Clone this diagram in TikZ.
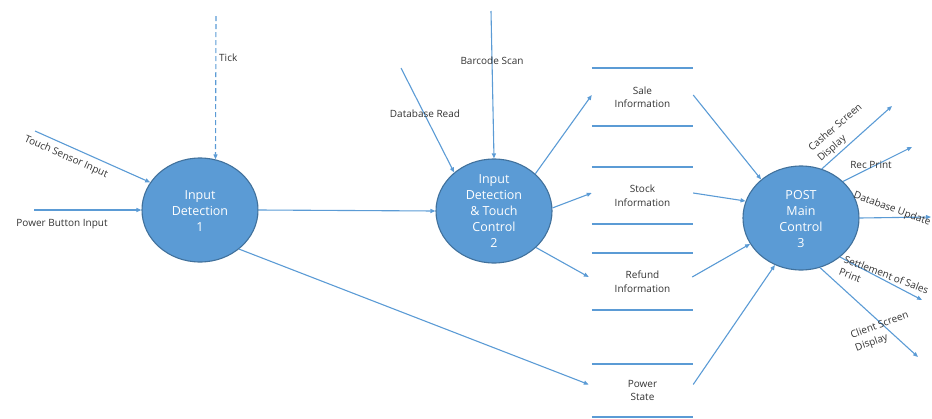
\documentclass[tikz,border=0pt]{standalone}
\usepackage{fontspec}
\setmainfont{Open Sans}
\usetikzlibrary{shapes.geometric,arrows.meta}
\definecolor{flowblue}{HTML}{5B9BD5}
\definecolor{procedge}{HTML}{41719C}
\definecolor{labelgray}{HTML}{333333}
\begin{document}
\begin{tikzpicture}[x=1pt,y=-1pt,
  process/.style={ellipse, draw=procedge, fill=flowblue, line width=1.1pt,
    minimum width=116pt, minimum height=104pt, inner sep=0pt},
  proclabel/.style={text=white, align=center, inner sep=0pt,
    font=\fontsize{12.5}{16}\selectfont},
  store/.style={minimum width=101pt, inner sep=0pt, align=center, text=labelgray,
    font=\fontsize{10}{13.5}\selectfont},
  storeline/.style={draw=flowblue, line width=1.8pt},
  flow/.style={draw=flowblue, line width=1.1pt, -{Triangle[length=5pt,width=4pt]}},
  tag/.style={text=labelgray, font=\fontsize{10}{13.5}\selectfont, inner sep=0pt, align=left},
]
\useasboundingbox (0,0) rectangle (932,418);

% processes
\node[process] (p1) at (200,210) {};
\node[proclabel] (p1t) at (200,211) {Input\\Detection\\1};
\node[process] (p2) at (494,211) {};
\node[proclabel] (p2t) at (494,211) {Input\\Detection\\\& Touch\\Control\\2};
\node[process] (p3) at (801,218) {};
\node[proclabel] (p3t) at (801,219) {POST\\Main\\Control\\3};

% data stores
\node[store, minimum height=58pt] (sale) at (642.5,97) {Sale\\Information};
\node[store, minimum height=57pt] (stock) at (642.5,195.5) {Stock\\Information};
\node[store, minimum height=57pt] (refund) at (642.5,281.5) {Refund\\Information};
\node[store, minimum height=53pt] (pst) at (642.5,390.5) {Power\\State};
\foreach \s in {sale,stock,refund,pst}{
  \draw[storeline] (\s.north west) -- (\s.north east);
  \draw[storeline] (\s.south west) -- (\s.south east);
}

% external inputs
\coordinate (tickin) at (216,16);
\coordinate (touchin) at (35,131);
\coordinate (pwrin) at (34,210);
\coordinate (dbin) at (401,68);
\coordinate (barin) at (491,11);

\draw[flow, dash pattern=on 5pt off 3pt] (tickin) -- (p1.73);
\draw[flow] (touchin) -- (p1.151);
\draw[flow] (pwrin) -- (p1.180);
\draw[flow] (dbin) -- (p2.136);
\draw[flow] (barin) -- (p2.90);

\node[tag, anchor=west] (ticklbl) at (219,58) {Tick};
\node[tag, rotate=-24] (touchlbl) at (66,157) {Touch Sensor Input};
\node[tag] (pwrlbl) at (62,224) {Power Button Input};
\node[tag] (dblbl) at (425,114) {Database Read};
\node[tag] (barlbl) at (492,61) {Barcode Scan};

% internal flows
\draw[flow] (p1.0) -- (p2.180);
\draw[flow] (p1.-45) -- ([xshift=-3pt,yshift=6pt]pst.west);
\draw[flow] (p2.42) -- ([yshift=2pt]sale.west);
\draw[flow] (p2.3) -- ([yshift=2.5pt]stock.west);
\draw[flow] (p2.-41) -- ([xshift=-3pt,yshift=4.5pt]refund.west);
\draw[flow] ([yshift=2pt]sale.east) -- (p3.136);
\draw[flow] ([yshift=2.5pt]stock.east) -- (p3.163);
\draw[flow] ([xshift=-1pt,yshift=4.5pt]refund.east) -- (p3.207);
\draw[flow] ([yshift=6pt]pst.east) -- (p3.241);

% outputs
\coordinate (cashout) at (892,106);
\coordinate (recout) at (912,147);
\coordinate (dbout) at (931,217);
\coordinate (setout) at (922,300);
\coordinate (cliout) at (918,357);

\draw[flow] (p3.67) -- (cashout);
\draw[flow] (p3.41) -- (recout);
\draw[flow] (p3.0) -- (dbout);
\draw[flow] (p3.-45) -- (setout);
\draw[flow] (p3.-69) -- (cliout);

\node[tag, rotate=41] (cashlbl) at (840,133) {Casher Screen\\Display};
\node[tag] (reclbl) at (871,165) {Rec Print};
\node[tag, rotate=-20] (dbuplbl) at (892,209) {Database Update};
\node[tag, rotate=-21] (setlbl) at (884,281) {Settlement of Sales\\Print};
\node[tag, rotate=20] (clilbl) at (882,332) {Client Screen\\Display};
\end{tikzpicture}
\end{document}
